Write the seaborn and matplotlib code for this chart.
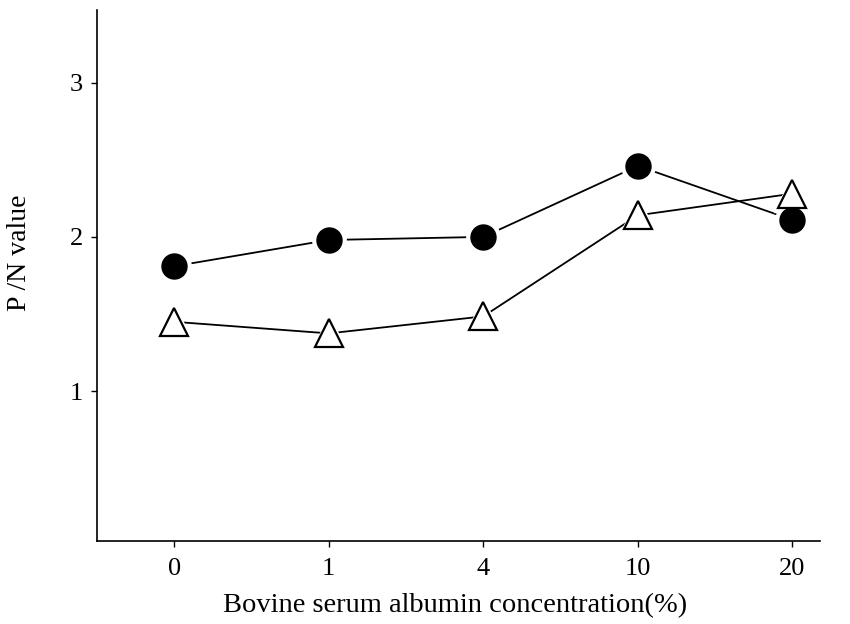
import matplotlib
matplotlib.use("Agg")
import matplotlib.pyplot as plt
import seaborn as sns
import pandas as pd
import numpy as np

categories = ["0", "1", "4", "10", "20"]
circle_values = [1.81, 1.98, 2.00, 2.46, 2.11]
triangle_values = [1.45, 1.375, 1.485, 2.14, 2.28]
y_ticks = [1, 2, 3]

sns.set_theme(style="white")
plt.rcParams["font.family"] = ["Liberation Serif", "DejaVu Serif"]
plt.rcParams["text.color"] = "black"
plt.rcParams["axes.labelcolor"] = "black"
plt.rcParams["xtick.color"] = "black"
plt.rcParams["ytick.color"] = "black"

fig = plt.figure(figsize=(8.5, 6.24), dpi=100)
ax = fig.add_axes([0.114, 0.133, 0.851, 0.851])

pos = np.arange(len(categories))
df = pd.DataFrame({"pos": np.concatenate([pos, pos]),
                   "value": circle_values + triangle_values,
                   "series": ["circle"] * 5 + ["triangle"] * 5})

sns.lineplot(data=df, x="pos", y="value", units="series", estimator=None,
             color="black", lw=1.3, ax=ax, legend=False)
# white halos to create the gap between lines and markers
ax.plot(pos, circle_values, ls="none", marker="o", ms=24, mfc="white", mec="white", zorder=3)
ax.plot(pos, triangle_values, ls="none", marker="^", ms=26, mfc="white", mec="white", zorder=3)
ax.plot(pos, circle_values, ls="none", marker="o", ms=18, mfc="black", mec="black", zorder=4)
ax.plot(pos, triangle_values, ls="none", marker="^", ms=20, mfc="white", mec="black", mew=1.6, zorder=4)

ax.set_xlim(-0.5, 4.18)
ax.set_ylim(0.03, 3.47)
ax.set_xticks(pos)
ax.set_xticklabels(categories, fontsize=19, color="black")
ax.set_yticks(y_ticks)
ax.set_yticklabels([str(t) for t in y_ticks], fontsize=19, color="black")
ax.tick_params(axis="x", direction="out", length=4, width=1, color="black",
               bottom=True, pad=8)
ax.tick_params(axis="y", direction="out", length=4, width=1, color="black",
               left=True, pad=6)
for s in ["top", "right"]:
    ax.spines[s].set_visible(False)
for s in ["left", "bottom"]:
    ax.spines[s].set_color("black")
    ax.spines[s].set_linewidth(1.2)

ax.set_xlabel("Bovine serum albumin concentration(%)", fontsize=20.5, color="black")
ax.xaxis.set_label_coords(0.495, -0.098)
ax.set_ylabel("P /N value", fontsize=20, color="black")
ax.yaxis.set_label_coords(-0.09, 0.542)

fig.savefig("out.png", dpi=100, facecolor="white")
